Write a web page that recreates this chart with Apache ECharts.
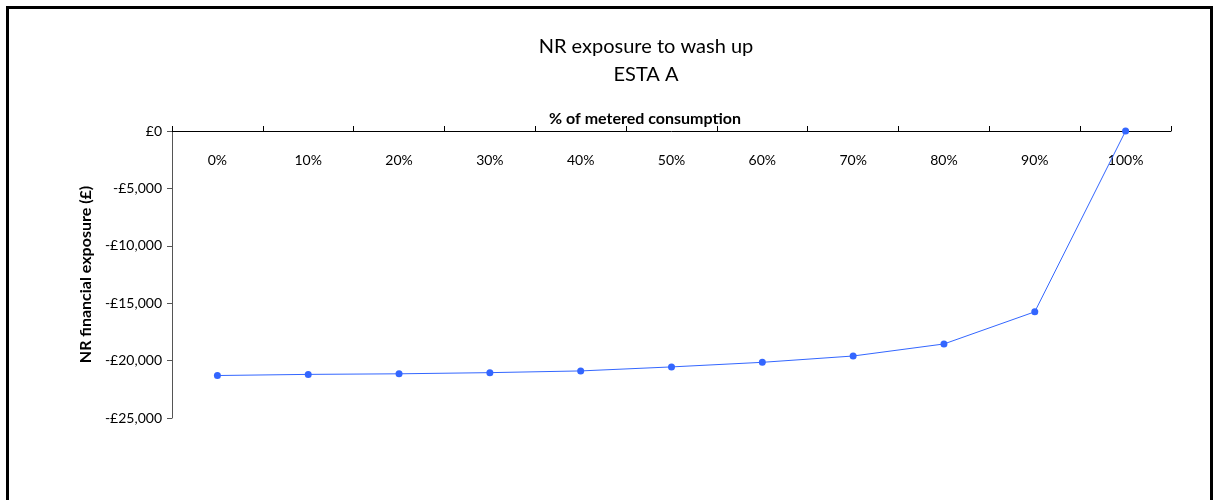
<!DOCTYPE html>
<html>
<head>
<meta charset="utf-8">
<script src="https://cdn.jsdelivr.net/npm/echarts@6/dist/echarts.min.js"></script>
<style>
html,body{margin:0;padding:0;background:#fff;}
#c{width:1216px;height:500px;}
</style>
</head>
<body>
<div id="c"></div>
<script>
var categories = ['0%','10%','20%','30%','40%','50%','60%','70%','80%','90%','100%'];
var exposure = [-21300, -21200, -21150, -21050, -20900, -20550, -20150, -19600, -18550, -15750, 0];
var titleLines = ['NR exposure to wash up', 'ESTA A'];
var xName = '% of metered consumption';
var yName = 'NR financial exposure (£)';

var chart = echarts.init(document.getElementById('c'), null, {renderer:'canvas'});
function money(v){
  var a = Math.abs(v);
  var s = a.toString().replace(/\B(?=(\d{3})+(?!\d))/g, ',');
  return (v < 0 ? '-£' : '£') + s;
}
chart.setOption({
  animation:false,
  backgroundColor:'#fff',
  textStyle:{fontFamily:'Lato'},
  title:[
    {text:titleLines.join('\n'), left:641, top:28, textAlign:'center',
     textStyle:{fontFamily:'Lato', fontWeight:'normal', fontSize:20, color:'#000', lineHeight:28}},
    {text:xName, left:640, top:106, textAlign:'center',
     textStyle:{fontFamily:'Lato', fontWeight:'bold', fontSize:16, color:'#000'}}
  ],
  graphic:[{type:'rect', shape:{x:7.5, y:7.5, width:1204, height:600},
    style:{fill:null, stroke:'#000', lineWidth:3}, silent:true}],
  grid:{left:172, top:131, width:999, height:287},
  xAxis:{type:'category', position:'top', data:categories, boundaryGap:true,
    axisLine:{lineStyle:{color:'#000', width:1}},
    axisTick:{show:true, inside:false, length:5, lineStyle:{color:'#000'}},
    axisLabel:{inside:true, margin:22, fontSize:14, color:'#000', fontFamily:'Lato'},
    splitLine:{show:false}},
  yAxis:{type:'value', min:-25000, max:0, interval:5000,
    name:yName, nameLocation:'middle', nameGap:76, nameRotate:90,
    nameTextStyle:{fontWeight:'bold', fontSize:16, color:'#000', fontFamily:'Lato'},
    axisLine:{show:true, lineStyle:{color:'#555', width:1}},
    axisTick:{show:true, inside:false, length:5, lineStyle:{color:'#555'}},
    axisLabel:{formatter:money, fontSize:14, color:'#000', margin:10, fontFamily:'Lato'},
    splitLine:{show:false}},
  series:[{type:'line', data:exposure, symbol:'circle', symbolSize:7,
    lineStyle:{color:'#3366ff', width:1},
    itemStyle:{color:'#3366ff'}}]
});
</script>
</body>
</html>
